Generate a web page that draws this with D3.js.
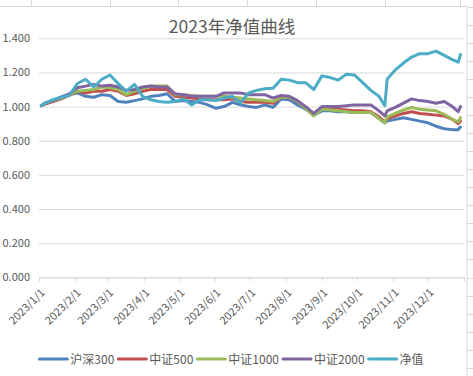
<!DOCTYPE html>
<html>
<head>
<meta charset="utf-8">
<title>2023年净值曲线</title>
<script src="https://d3js.org/d3.v7.min.js"></script>
<style>
  body { margin: 0; background: #fff; }
  text { font-family: "Noto Sans CJK SC", "Noto Sans", sans-serif; fill: #595959; }
</style>
</head>
<body>
<svg width="473" height="376"></svg>
<script>
// 周度日期（含少量补充点）
var dates = ["2023-01-03","2023-01-06","2023-01-13","2023-01-20","2023-01-27",
  "2023-02-03","2023-02-10","2023-02-17","2023-02-24","2023-03-03","2023-03-10","2023-03-17","2023-03-24","2023-03-31",
  "2023-04-07","2023-04-14","2023-04-21","2023-04-28","2023-05-05","2023-05-12","2023-05-19","2023-05-26",
  "2023-06-02","2023-06-09","2023-06-16","2023-06-23","2023-06-30","2023-07-07","2023-07-14","2023-07-21","2023-07-28",
  "2023-08-04","2023-08-11","2023-08-18","2023-08-25","2023-09-01","2023-09-08","2023-09-15","2023-09-22","2023-09-29",
  "2023-10-06","2023-10-13","2023-10-20","2023-10-25","2023-10-27","2023-11-03","2023-11-10","2023-11-17","2023-11-24",
  "2023-12-01","2023-12-08","2023-12-15","2023-12-22","2023-12-27","2023-12-29"];

var hs300 = [1.005,1.015,1.035,1.055,1.07, 1.08,1.06,1.055,1.07,1.065,1.03,1.025,1.035,1.045,
  1.06,1.065,1.075,1.03,1.035,1.03,1.025,1.01, 0.99,1.0,1.025,1.01,1.0,0.995,1.01,0.995,1.045,
  1.04,1.01,0.985,0.95,0.975,0.975,0.97,0.97,0.965, 0.965,0.965,0.93,0.905,0.915,0.925,0.935,0.925,0.915,
  0.905,0.885,0.87,0.865,0.865,0.88];
var zz500 = [1.005,1.015,1.03,1.045,1.065, 1.09,1.08,1.09,1.09,1.10,1.09,1.065,1.075,1.09,
  1.10,1.10,1.10,1.06,1.055,1.05,1.045,1.04, 1.04,1.04,1.045,1.03,1.025,1.025,1.025,1.02,1.055,
  1.055,1.03,0.995,0.955,0.99,0.985,0.985,0.98,0.975, 0.975,0.97,0.94,0.91,0.93,0.945,0.96,0.97,0.96,
  0.955,0.95,0.945,0.925,0.90,0.915];
var zz1000 = [1.005,1.02,1.035,1.05,1.07, 1.09,1.095,1.10,1.115,1.11,1.10,1.07,1.09,1.105,
  1.12,1.12,1.12,1.07,1.07,1.065,1.06,1.06, 1.06,1.06,1.055,1.05,1.045,1.04,1.035,1.03,1.055,
  1.055,1.03,0.99,0.945,0.985,0.98,0.975,0.97,0.965, 0.965,0.965,0.93,0.905,0.94,0.96,0.98,0.995,0.985,
  0.98,0.975,0.955,0.925,0.91,0.935];
var zz2000 = [1.005,1.02,1.035,1.055,1.075, 1.11,1.12,1.13,1.12,1.125,1.115,1.095,1.10,1.115,
  1.12,1.115,1.115,1.075,1.07,1.06,1.06,1.06, 1.06,1.08,1.08,1.08,1.07,1.07,1.07,1.05,1.065,
  1.06,1.035,1.0,0.96,1.0,1.0,1.0,1.005,1.01, 1.01,1.01,0.975,0.945,0.975,0.995,1.02,1.045,1.035,
  1.03,1.02,1.03,1.0,0.97,1.0];
var jingzhi = [1.005,1.02,1.04,1.055,1.065, 1.135,1.16,1.115,1.16,1.185,1.135,1.09,1.13,1.06,
  1.04,1.03,1.025,1.03,1.045,1.01,1.04,1.04, 1.035,1.05,1.06,1.02,1.08,1.095,1.105,1.107,1.16,
  1.155,1.14,1.14,1.10,1.18,1.17,1.155,1.19,1.185, 1.14,1.095,1.06,1.005,1.16,1.215,1.255,1.29,1.31,
  1.31,1.325,1.30,1.275,1.26,1.305];

var seriesNames = ["沪深300","中证500","中证1000","中证2000","净值"];
var seriesColors = ["#4F81BD","#C0504D","#9BBB59","#8064A2","#4BACC6"];
var yTicks = [0, 0.2, 0.4, 0.6, 0.8, 1.0, 1.2, 1.4];
var monthTicks = ["2023-01-01","2023-02-01","2023-03-01","2023-04-01","2023-05-01","2023-06-01",
  "2023-07-01","2023-08-01","2023-09-01","2023-10-01","2023-11-01","2023-12-01","2024-01-01"];

var svg = d3.select("svg");
var parse = d3.timeParse("%Y-%m-%d");
var plotLeft = 39, plotRight = 464, plotTop = 38.3, plotBottom = 277.3;

// 表格背景的单元格线
var cells = svg.append("g").attr("stroke", "#dadada").attr("stroke-width", 1);
[31.5, 110.5, 178.5, 247.5, 316.5, 385.5, 460.5].forEach(function(x){
  cells.append("line").attr("x1", x).attr("x2", x).attr("y1", 0).attr("y2", 6);
});
for (var ry = 6.6; ry < 376; ry += 18.06) {
  cells.append("line").attr("x1", 467).attr("x2", 473)
    .attr("y1", Math.round(ry) + 0.5).attr("y2", Math.round(ry) + 0.5);
}
svg.append("rect").attr("x", -1).attr("y", 6.5).attr("width", 468).attr("height", 380)
  .attr("fill", "#fff").attr("stroke", "#d9d9d9");

var x = d3.scaleTime().domain([parse("2023-01-01"), parse("2024-01-01")]).range([plotLeft, plotRight]);
var y = d3.scaleLinear().domain([0, 1.4]).range([plotBottom, plotTop]);

// 标题
svg.append("text").attr("x", 232).attr("y", 33).attr("text-anchor", "middle")
  .attr("font-size", 17.5).text("2023年净值曲线");

// 网格线 + y轴
var yAxis = svg.append("g").attr("transform", "translate(" + plotLeft + ",0)")
  .call(d3.axisLeft(y).tickValues(yTicks).tickSize(-(plotRight - plotLeft)).tickFormat(d3.format(".3f")).tickPadding(9));
yAxis.select(".domain").remove();
yAxis.selectAll("line").attr("stroke", "#d9d9d9");
yAxis.selectAll("text").attr("font-size", 11).attr("fill", "#595959")
  .style("font-family", "'Noto Sans CJK SC', sans-serif");

// x轴
var xAxis = svg.append("g").attr("transform", "translate(0," + plotBottom + ")")
  .call(d3.axisBottom(x).tickValues(monthTicks.map(parse)).tickSize(4)
    .tickFormat(function(d){ return d.getFullYear() === 2024 ? "" : d3.timeFormat("%Y/%-m/%-d")(d); }));
xAxis.select(".domain").attr("stroke", "#d9d9d9");
xAxis.selectAll("line").attr("stroke", "#d9d9d9");
xAxis.selectAll("text").attr("font-size", 11).attr("fill", "#595959")
  .style("font-family", "'Noto Sans CJK SC', sans-serif")
  .attr("text-anchor", "end").attr("dy", 0).attr("y", 0)
  .attr("transform", "translate(6,16) rotate(-45)");

// 折线
var allSeries = [hs300, zz500, zz1000, zz2000, jingzhi];
var line = d3.line()
  .x(function(d, i){ return x(parse(dates[i])); })
  .y(function(d){ return y(d); });
allSeries.forEach(function(s, k){
  svg.append("path").datum(s).attr("d", line)
    .attr("fill", "none").attr("stroke", seriesColors[k]).attr("stroke-width", 3)
    .attr("stroke-linejoin", "round").attr("stroke-linecap", "round");
});

// 图例
var legend = svg.append("g");
var lx = 0;
seriesNames.forEach(function(name, k){
  var item = legend.append("g").attr("transform", "translate(" + lx + ",0)");
  item.append("line").attr("x1", 0).attr("x2", 28).attr("y1", 0).attr("y2", 0)
    .attr("stroke", seriesColors[k]).attr("stroke-width", 3).attr("stroke-linecap", "round");
  var t = item.append("text").attr("x", 31).attr("y", 4.5).attr("font-size", 12).text(name);
  lx += 31 + t.node().getComputedTextLength() + 4;
});
lx -= 4;
legend.attr("transform", "translate(" + (231.5 - lx / 2) + ",359)");
</script>
</body>
</html>
